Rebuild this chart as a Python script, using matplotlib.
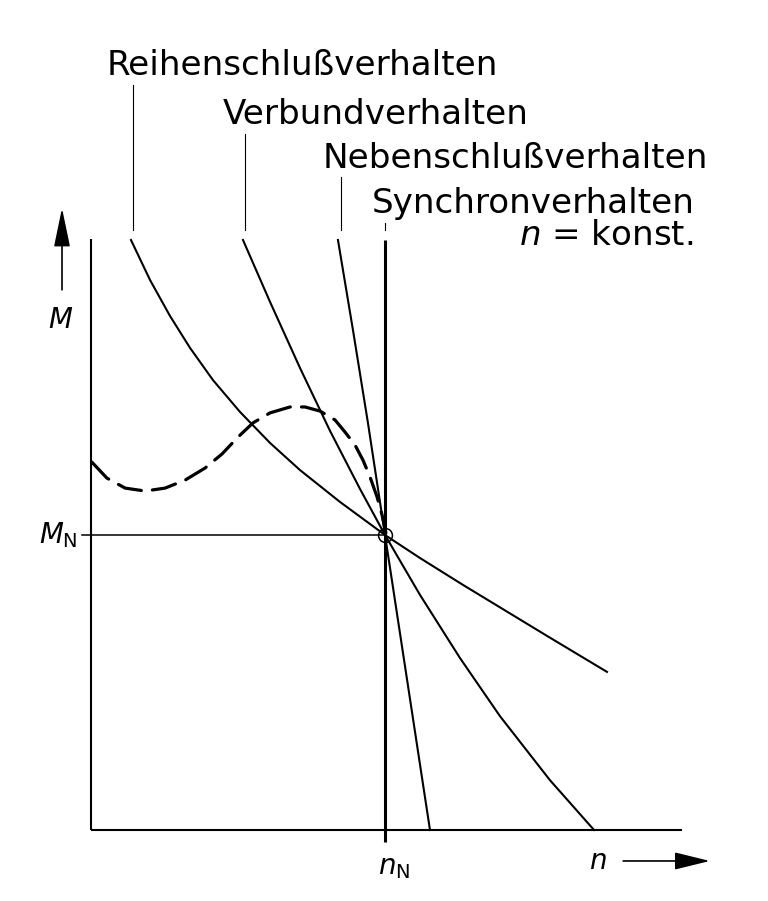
import matplotlib
matplotlib.use("Agg")
import matplotlib.pyplot as plt

plt.rcParams['mathtext.fontset'] = 'dejavusans'
plt.rcParams['font.family'] = ['DejaVu Sans']

# ---- data (n relative to n_N, M relative to M_N) ----
n_reihe = [0.136, 0.201, 0.269, 0.337, 0.415, 0.507, 0.609, 0.711, 0.847, 1.0,
           1.119, 1.265, 1.551, 1.755]
M_reihe = [2.000, 1.864, 1.742, 1.634, 1.525, 1.417, 1.312, 1.220, 1.112, 1.0,
           0.922, 0.831, 0.658, 0.536]

n_verbund = [0.517, 0.609, 0.711, 0.813, 0.915, 1.0, 1.119, 1.255, 1.391, 1.561, 1.711]
M_verbund = [2.000, 1.790, 1.566, 1.353, 1.156, 1.0, 0.797, 0.583, 0.386, 0.169, 0.0]

n_neben = [0.840, 0.891, 0.942, 1.0, 1.153]
M_neben = [2.0, 1.695, 1.380, 1.0, 0.0]

n_sync = [1.0, 1.0]
M_sync = [-0.041, 2.0]

n_async = [0.003, 0.054, 0.116, 0.184, 0.252, 0.320, 0.388, 0.446, 0.500, 0.551,
           0.609, 0.677, 0.728, 0.779, 0.830, 0.864, 0.898, 0.925, 0.949, 0.973,
           0.990, 1.003]
M_async = [1.247, 1.193, 1.159, 1.149, 1.159, 1.186, 1.227, 1.275, 1.332, 1.380,
           1.414, 1.434, 1.434, 1.420, 1.390, 1.349, 1.305, 1.254, 1.197, 1.129,
           1.068, 1.007]

n_nominal = 1.0
M_nominal = 1.0

labels = ["Reihenschlußverhalten", "Verbundverhalten",
          "Nebenschlußverhalten", "Synchronverhalten"]

# ---- figure ----
fig = plt.figure(figsize=(7.68, 9.01), dpi=100)
ax = fig.add_axes([0, 0, 1, 1])
ax.set_xlim(-91 / 294, 677 / 294)
ax.set_ylim((830 - 901) / 295, 830 / 295)
ax.axis('off')

k = 'black'
# axes lines
ax.plot([0, 0], [0, 2.003], color=k, lw=1.5, solid_capstyle='butt')
ax.plot([0, 2.010], [0, 0], color=k, lw=1.5, solid_capstyle='butt')

# M_N line with tick
ax.plot([-0.030, n_nominal], [M_nominal, M_nominal], color=k, lw=1.1)

# characteristics
ax.plot(n_reihe, M_reihe, color=k, lw=1.5, solid_joinstyle='round')
ax.plot(n_verbund, M_verbund, color=k, lw=1.5, solid_joinstyle='round')
ax.plot(n_neben, M_neben, color=k, lw=1.5)
ax.plot(n_sync, M_sync, color=k, lw=2.2, solid_capstyle='butt')
ax.plot(n_async, M_async, color=k, lw=2.3, dashes=(7.5, 3.5),
        dash_capstyle='round', dash_joinstyle='round')

# nominal point circle
ax.plot([n_nominal], [M_nominal], marker='o', ms=10, mfc='none', mec=k, mew=1.1)

# leader lines from labels to curves
leaders = [(0.143, 2.524), (0.524, 2.358), (0.850, 2.214), (0.999, 2.057)]
for (x, ytop) in leaders:
    ax.plot([x, x], [ytop, 2.034], color=k, lw=0.8)

# label texts
fs = 24.6
ax.text(0.054, 2.559, labels[0], fontsize=fs, ha='left', va='baseline')
ax.text(0.449, 2.393, labels[1], fontsize=fs, ha='left', va='baseline')
ax.text(0.789, 2.244, labels[2], fontsize=fs, ha='left', va='baseline')
ax.text(0.956, 2.092, labels[3], fontsize=fs, ha='left', va='baseline')
ax.text(2.048, 1.983, r'$n$' + ' = konst.', fontsize=fs, ha='right', va='baseline')

# axis labels
ax.text(-0.102, 1.729, r'$M$', fontsize=20, ha='center', va='center')
ax.text(-0.045, 1.0, r'$M_{\mathrm{N}}$', fontsize=20, ha='right', va='center')
ax.text(1.03, -0.125, r'$n_{\mathrm{N}}$', fontsize=20, ha='center', va='center')
ax.text(1.725, -0.105, r'$n$', fontsize=20, ha='center', va='center')

# arrows
ax.annotate('', xy=(-0.0986, 2.108), xytext=(-0.0986, 1.831),
            arrowprops=dict(arrowstyle='-|>,head_length=1.2,head_width=0.25',
                            mutation_scale=20, lw=1.2, color=k,
                            shrinkA=0, shrinkB=0))
ax.annotate('', xy=(2.105, -0.105), xytext=(1.810, -0.105),
            arrowprops=dict(arrowstyle='-|>,head_length=1.1,head_width=0.27',
                            mutation_scale=20, lw=1.2, color=k,
                            shrinkA=0, shrinkB=0))

fig.savefig('out.png', dpi=100, facecolor='white')
